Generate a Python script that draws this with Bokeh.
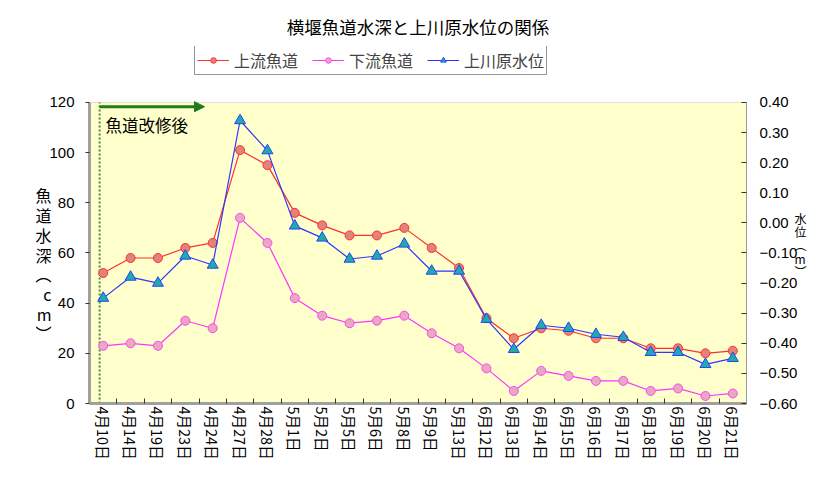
import math
from bokeh.plotting import figure
from bokeh.models import (Range1d, LinearAxis, FixedTicker, Legend, LegendItem,
                          BoxAnnotation, Arrow, NormalHead)
from bokeh.core.properties import value
from bokeh.embed import file_html
from bokeh.resources import INLINE

# ---- data ----
dates = ["4月10日", "4月14日", "4月19日", "4月23日", "4月24日", "4月27日", "4月28日",
         "5月1日", "5月2日", "5月5日", "5月6日", "5月8日", "5月9日", "5月13日",
         "6月12日", "6月13日", "6月14日", "6月15日", "6月16日", "6月17日", "6月18日",
         "6月19日", "6月20日", "6月21日"]
upstream = [52, 58, 58, 62, 64, 101, 95, 76, 71, 67, 67, 70, 62, 54,
            34, 26, 30, 29, 26, 26, 22, 22, 20, 21]
downstream = [23, 24, 23, 33, 30, 74, 64, 42, 35, 32, 33, 35, 28, 22,
              14, 5, 13, 11, 9, 9, 5, 6, 3, 4]
water_level = [-0.25, -0.18, -0.20, -0.11, -0.14, 0.34, 0.24, -0.01, -0.05, -0.12, -0.11,
               -0.07, -0.16, -0.16, -0.32, -0.42, -0.34, -0.35, -0.37, -0.38, -0.43,
               -0.43, -0.47, -0.45]
depth_ticks = [0, 20, 40, 60, 80, 100, 120]
level_ticks = [-0.6, -0.5, -0.4, -0.3, -0.2, -0.1, 0.0, 0.1, 0.2, 0.3, 0.4]
level_tick_labels = ["−0.60", "−0.50", "−0.40", "−0.30", "−0.20", "−0.10",
                     "0.00", "0.10", "0.20", "0.30", "0.40"]
series_names = ["上流魚道", "下流魚道", "上川原水位"]
title_text = "横堰魚道水深と上川原水位の関係"
note_text = "魚道改修後"
left_label = "魚道水深（cm）"
right_label = "水位（m）"

CJK = "Noto Sans CJK JP"
NUM = "Liberation Sans"
HEADROOM = 22.3  # extra room (in depth units) above the plot area for the legend


def stack(s, pad):
    chars = list(s.replace("（", "︵").replace("）", "︶"))
    return "\n".join([" "] * pad + chars)


x = list(range(len(dates)))
d0, d1 = depth_ticks[0], depth_ticks[-1]
l0, l1v = level_ticks[0], level_ticks[-1]
lvl_per_depth = (l1v - l0) / (d1 - d0)

p = figure(width=809, height=463, x_range=Range1d(-0.5, len(dates) - 0.5),
           y_range=Range1d(d0, d1 + HEADROOM),
           output_backend="svg", toolbar_location=None,
           min_border_left=89, min_border_right=60, min_border_top=46, min_border_bottom=60,
           background_fill_color="white", border_fill_color="white",
           outline_line_color=None)
p.xgrid.visible = False
p.ygrid.visible = False

# plot area (yellow) with border
p.add_layout(BoxAnnotation(bottom=d0, top=d1, fill_color="#FFFFCC", fill_alpha=1,
                           line_color="#999999", line_width=1, level="underlay"))

# title
p.title.text = title_text
p.title.align = "center"
p.title.text_font = CJK
p.title.text_font_size = "17.5px"
p.title.text_font_style = "normal"
p.title.text_color = "black"
p.title.standoff = 15

# x axis
xa = p.xaxis[0]
xa.ticker = FixedTicker(ticks=x, minor_ticks=[i + 0.5 for i in range(len(dates) - 1)])
xa.major_label_overrides = {i: d for i, d in enumerate(dates)}
xa.major_tick_line_color = None
xa.minor_tick_in = 5
xa.minor_tick_out = 0
xa.minor_tick_line_color = "#333333"
xa.axis_line_color = "#A0A0A0"
xa.axis_line_width = 3
xa.major_label_orientation = -math.pi / 2
xa.major_label_standoff = -3
xa.major_label_text_font = CJK
xa.major_label_text_font_size = "14.5px"
xa.major_label_text_color = "black"

# left axis
ya = p.yaxis[0]
ya.ticker = FixedTicker(ticks=depth_ticks)
ya.bounds = (d0, d1)
ya.minor_tick_line_color = None
ya.major_tick_out = 4
ya.major_tick_in = 0
ya.major_tick_line_color = "#333333"
ya.axis_line_color = "#A0A0A0"
ya.axis_line_width = 3
ya.major_label_standoff = 11
ya.major_label_text_font = NUM
ya.major_label_text_font_size = "15px"
ya.major_label_text_color = "black"
ya.axis_label = stack(left_label, 4)
ya.axis_label_orientation = "horizontal"
ya.axis_label_standoff = -5
ya.axis_label_text_font = CJK
ya.axis_label_text_font_size = "16px"
ya.axis_label_text_font_style = "normal"
ya.axis_label_text_color = "black"
ya.axis_label_text_line_height = 0.82

# right axis
p.extra_y_ranges = {"lvl": Range1d(l0, l1v + HEADROOM * lvl_per_depth)}
ra = LinearAxis(y_range_name="lvl", ticker=FixedTicker(ticks=level_ticks),
                major_label_overrides=dict(zip(level_ticks, level_tick_labels)),
                bounds=(l0, l1v))
ra.minor_tick_line_color = None
ra.major_tick_in = 5
ra.major_tick_out = 0
ra.major_tick_line_color = "#333333"
ra.axis_line_color = "#999999"
ra.axis_line_width = 1
ra.major_label_standoff = 13
ra.major_label_text_font = NUM
ra.major_label_text_font_size = "15px"
ra.major_label_text_color = "black"
ra.axis_label = stack(right_label, 3)
ra.axis_label_orientation = "horizontal"
ra.axis_label_standoff = -6
ra.axis_label_text_font = CJK
ra.axis_label_text_font_size = "12px"
ra.axis_label_text_font_style = "normal"
ra.axis_label_text_color = "black"
ra.axis_label_text_line_height = 0.78
p.add_layout(ra, "right")

# annotations: dotted line and arrow
p.segment(x0=[-0.13], y0=[d0], x1=[-0.13], y1=[d1], line_color="#4A8A4A",
          line_width=2, line_dash="2 2")
p.add_layout(Arrow(end=NormalHead(size=10, fill_color="#1E7B1E", line_color="#1E7B1E"),
                   x_start=-0.13, y_start=118.3, x_end=3.7, y_end=118.3,
                   line_color="#1E7B1E", line_width=3))
p.text(x=[0.08], y=[111], text=[note_text], text_font=value(CJK),
       text_font_size="16.5px", text_baseline="middle", text_align="left",
       text_color="black")

# series
r1 = p.line(x, upstream, line_color="#FF3030", line_width=1.2)
m1 = p.scatter(x, upstream, marker="circle", size=9, fill_color="#E0837A",
               line_color="#FF3030", line_width=1)
r2 = p.line(x, downstream, line_color="#FF33FF", line_width=1.2)
m2 = p.scatter(x, downstream, marker="circle", size=9, fill_color="#E8A8C0",
               line_color="#FF44FF", line_width=1)
r3 = p.line(x, water_level, line_color="#3333FF", line_width=1.2, y_range_name="lvl")
m3 = p.scatter(x, water_level, marker="triangle", size=11, fill_color="#22AAAA",
               line_color="#2244FF", line_width=1, y_range_name="lvl")

legend = Legend(items=[LegendItem(label=series_names[0], renderers=[r1, m1]),
                       LegendItem(label=series_names[1], renderers=[r2, m2]),
                       LegendItem(label=series_names[2], renderers=[r3, m3])],
                orientation="horizontal", location=(105, 328),
                label_text_font=CJK, label_text_font_size="16px",
                glyph_width=32, glyph_height=14, label_height=14, label_standoff=5,
                spacing=14, padding=2, margin=0,
                border_line_color="#333333", border_line_width=1,
                background_fill_color="white", background_fill_alpha=1)
p.add_layout(legend)

open("out.html", "w").write(file_html(p, INLINE))
